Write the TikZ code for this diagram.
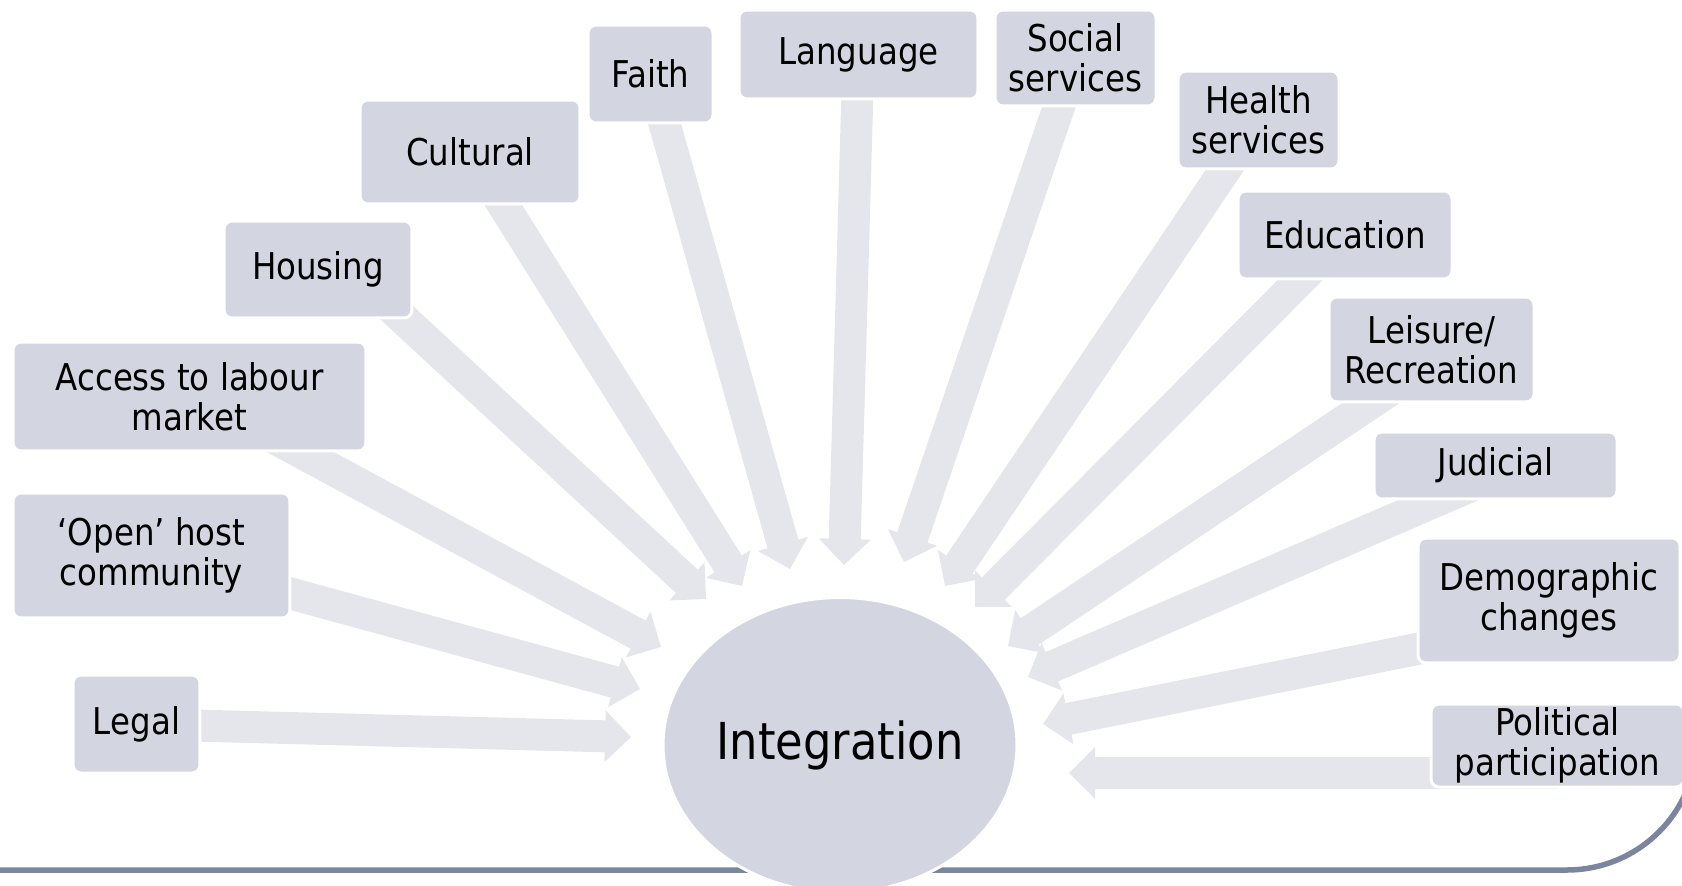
\documentclass[tikz,border=0pt]{standalone}
\usepackage{fontspec}
\setmainfont[FakeStretch=0.88]{DejaVu Sans}
\usetikzlibrary{calc,shapes.geometric,backgrounds}

\definecolor{boxfill}{RGB}{211,214,224}
\definecolor{arrowfill}{RGB}{229,230,236}
\definecolor{rulecolor}{RGB}{125,132,158}

\tikzset{
  factor/.style={rectangle, rounded corners=0.16cm, fill=boxfill, draw=white,
    line width=0.06cm, align=center, inner sep=0pt,
    font=\fontsize{21}{22.8}\selectfont},
  hub/.style={ellipse, fill=boxfill, draw=white, line width=0.06cm,
    inner sep=0pt, font=\fontsize{29}{32}\selectfont},
  rule/.style={draw=rulecolor, line width=0.11cm},
}

\newcommand{\blockarrow}[2]{%
  \path #1 coordinate (ba-s) #2 coordinate (ba-t);
  \path ($(ba-t)!0.52cm!(ba-s)$) coordinate (ba-b);
  \fill[arrowfill] ($(ba-s)!0.32cm!90:(ba-t)$) -- ($(ba-b)!0.32cm!-90:(ba-s)$)
    -- ($(ba-b)!0.52cm!-90:(ba-s)$) -- (ba-t) -- ($(ba-b)!0.52cm!90:(ba-s)$)
    -- ($(ba-b)!0.32cm!90:(ba-s)$) -- ($(ba-s)!0.32cm!-90:(ba-t)$) -- cycle;
}

\begin{document}
\begin{tikzpicture}[x=0.02cm,y=-0.02cm]
  \useasboundingbox (0,0) rectangle (1682,885);
  \clip (0,0) rectangle (1682,885);

  \node[hub, minimum width=7.08cm, minimum height=5.9cm] (integ) at (840,745) {Integration};

  \node[factor, minimum width=2.54cm, minimum height=1.96cm] (legal) at (136.5,724) {Legal};
  \node[factor, minimum width=5.54cm, minimum height=2.5cm] (openhost) at (151.5,555.5) {`Open' host\\community};
  \node[factor, minimum width=7.06cm, minimum height=2.18cm] (labour) at (189.5,396.5) {Access to labour\\market};
  \node[factor, minimum width=3.76cm, minimum height=1.94cm] (housing) at (318,269.5) {Housing};
  \node[factor, minimum width=4.4cm, minimum height=2.08cm] (cultural) at (470,152) {Cultural};
  \node[factor, minimum width=2.5cm, minimum height=1.96cm] (faith) at (650.5,74) {Faith};
  \node[factor, minimum width=4.78cm, minimum height=1.78cm] (language) at (858.5,54.5) {Language};
  \node[factor, minimum width=3.22cm, minimum height=1.92cm] (social) at (1075.5,58) {Social\\services};
  \node[factor, minimum width=3.22cm, minimum height=1.96cm] (health) at (1258.5,120) {Health\\services};
  \node[factor, minimum width=4.28cm, minimum height=1.76cm] (education) at (1345,235) {Education};
  \node[factor, minimum width=4.1cm, minimum height=2.1cm] (leisure) at (1431.5,349.5) {Leisure/\\Recreation};
  \node[factor, minimum width=4.86cm, minimum height=1.34cm] (judicial) at (1495.5,465.5) {Judicial};
  \node[factor, minimum width=5.24cm, minimum height=2.5cm] (demog) at (1549,600.5) {Demographic\\changes};
  \node[factor, minimum width=5.06cm, minimum height=1.66cm] (polit) at (1557.5,745.5) {Political\\participation};

  \coordinate (t-legal) at (631,737);
  \coordinate (t-openhost) at (640,689);
  \coordinate (t-labour) at (661,647);
  \coordinate (t-housing) at (706,599);
  \coordinate (t-cultural) at (742,586);
  \coordinate (t-faith) at (790,569);
  \coordinate (t-language) at (844,565);
  \coordinate (t-social) at (904,562);
  \coordinate (t-health) at (945,586);
  \coordinate (t-education) at (975,607);
  \coordinate (t-leisure) at (1008,646);
  \coordinate (t-judicial) at (1028,677);
  \coordinate (t-demog) at (1043,724);
  \coordinate (t-polit) at (1069,773);

  \begin{scope}[on background layer]
    \draw[rule] (0,870) -- (1567,870) arc[start angle=90, end angle=20, radius=130];
    \blockarrow{(legal.center)}{(t-legal)}
    \blockarrow{(openhost.center)}{(t-openhost)}
    \blockarrow{($(labour.center)+(8,0)$)}{(t-labour)}
    \blockarrow{($(housing.center)+(32,0)$)}{(t-housing)}
    \blockarrow{(cultural.center)}{(t-cultural)}
    \blockarrow{(faith.center)}{(t-faith)}
    \blockarrow{(language.center)}{(t-language)}
    \blockarrow{(social.center)}{(t-social)}
    \blockarrow{(health.center)}{(t-health)}
    \blockarrow{(education.center)}{(t-education)}
    \blockarrow{($(leisure.center)+(0,13)$)}{(t-leisure)}
    \blockarrow{($(judicial.center)+(0,10)$)}{(t-judicial)}
    \blockarrow{($(demog.center)+(0,22)$)}{(t-demog)}
    \blockarrow{(polit.center |- t-polit)}{(t-polit)}
  \end{scope}
\end{tikzpicture}
\end{document}
